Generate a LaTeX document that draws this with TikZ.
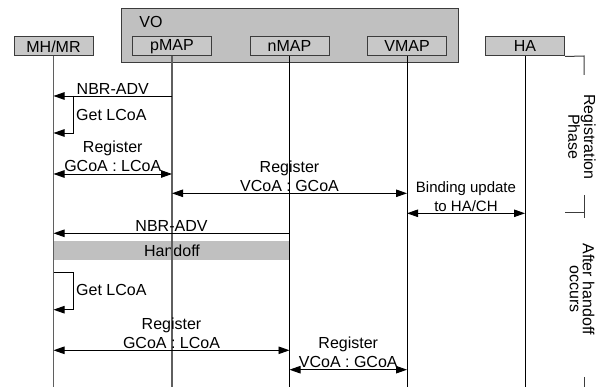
\documentclass[tikz,border=0pt]{standalone}
\usepackage{fontspec}
\setmainfont{Liberation Sans}
\usetikzlibrary{arrows.meta,positioning}

\definecolor{vogray}{RGB}{192,192,192}
\definecolor{boxgray}{RGB}{200,200,200}
\definecolor{bargray}{RGB}{192,192,192}
\definecolor{edgegray}{RGB}{60,60,60}
\definecolor{linegray}{RGB}{95,95,95}

\begin{document}
\begin{tikzpicture}[x=1pt, y=-1pt, every node/.style={font=\fontsize{16}{19}\selectfont},
    entity/.style={draw=edgegray, fill=boxgray, line width=1pt, minimum width=79pt, minimum height=19pt, inner sep=0pt},
    msg/.style={line width=0.9pt, -{Triangle[length=11pt,width=7.5pt]}},
    dmsg/.style={line width=0.9pt, {Triangle[length=11pt,width=7.5pt]}-{Triangle[length=11pt,width=7.5pt]}},
    lbl/.style={align=center, inner sep=1.5pt},
    phase/.style={rotate=-90, align=center, font=\fontsize{16}{13}\selectfont}]
    \useasboundingbox (0,0) rectangle (606,387);

    % VO domain
    \draw[draw=edgegray, fill=vogray, line width=1pt] (121,9) rectangle (458,63);
    \node (vo) at (151,22) {VO};

    % Entities
    \node[entity] (mh) at (53.5,46.5) {MH/MR};
    \node[entity] (pmap) at (172,46.5) {pMAP};
    \node[entity] (nmap) at (289.5,46.5) {nMAP};
    \node[entity] (vmap) at (407,46.5) {VMAP};
    \node[entity] (ha) at (525,46.5) {HA};

    % Handoff bar (lifelines run over it)
    \fill[bargray] (mh |- 0,241) rectangle (nmap |- 0,260.3);
    \node (handoff) at (172,250.5) {Handoff};

    % Lifelines
    \foreach \e in {mh,pmap}
        \draw[linegray, line width=1.2pt] (\e.south) -- (\e |- 0,387);
    \foreach \e in {nmap,vmap,ha}
        \draw[line width=0.9pt] (\e.south) -- (\e |- 0,387);

    % Registration phase
    \draw[msg] (pmap |- 0,96) -- (mh |- 0,96) node[midway, above, lbl] (adv1) {NBR-ADV};
    \draw[msg] (73,96) -- (73,133) -- (mh |- 0,133);
    \node[anchor=west, inner sep=1pt] (get1) at (75,115) {Get LCoA};
    \draw[dmsg] (mh |- 0,174) -- (pmap |- 0,174) node[midway, above, lbl] (reg1) {Register\\GCoA : LCoA};
    \draw[dmsg] (pmap |- 0,193.3) -- (vmap |- 0,193.3) node[midway, above, lbl] (reg2) {Register\\VCoA : GCoA};
    \draw[dmsg] (vmap |- 0,213.3) -- (ha |- 0,213.3) node[midway, above, lbl, font=\fontsize{15}{19}\selectfont] (bu) {Binding update\\to HA/CH};

    % After handoff
    \draw[msg] (nmap |- 0,233.3) -- (mh |- 0,233.3) node[midway, above, lbl] (adv2) {NBR-ADV};
    \draw[msg] (mh |- 0,272) -- (73,272) -- (73,309.7) -- (mh |- 0,309.7);
    \node[anchor=west, inner sep=1pt] (get2) at (75,290) {Get LCoA};
    \draw[dmsg] (mh |- 0,350.3) -- (nmap |- 0,350.3) node[midway, above, lbl] (reg3) {Register\\GCoA : LCoA};
    \draw[dmsg] (nmap |- 0,369.7) -- (vmap |- 0,369.7) node[midway, above, lbl] (reg4) {Register\\VCoA : GCoA};

    % Phase marks on the right
    \draw[edgegray, line width=1pt] (ha.south east) -- (584,56) -- (584,75);
    \draw[edgegray, line width=1pt] (584,195) -- (584,218);
    \draw[edgegray, line width=1pt] (565,213) -- (584,213);
    \draw[edgegray, line width=1pt] (584,377) -- (584,387);
    \node[phase] (regph) at (582,137) {Registration\\Phase};
    \node[phase] (afterho) at (582,289) {After handoff\\occurs};
\end{tikzpicture}
\end{document}
